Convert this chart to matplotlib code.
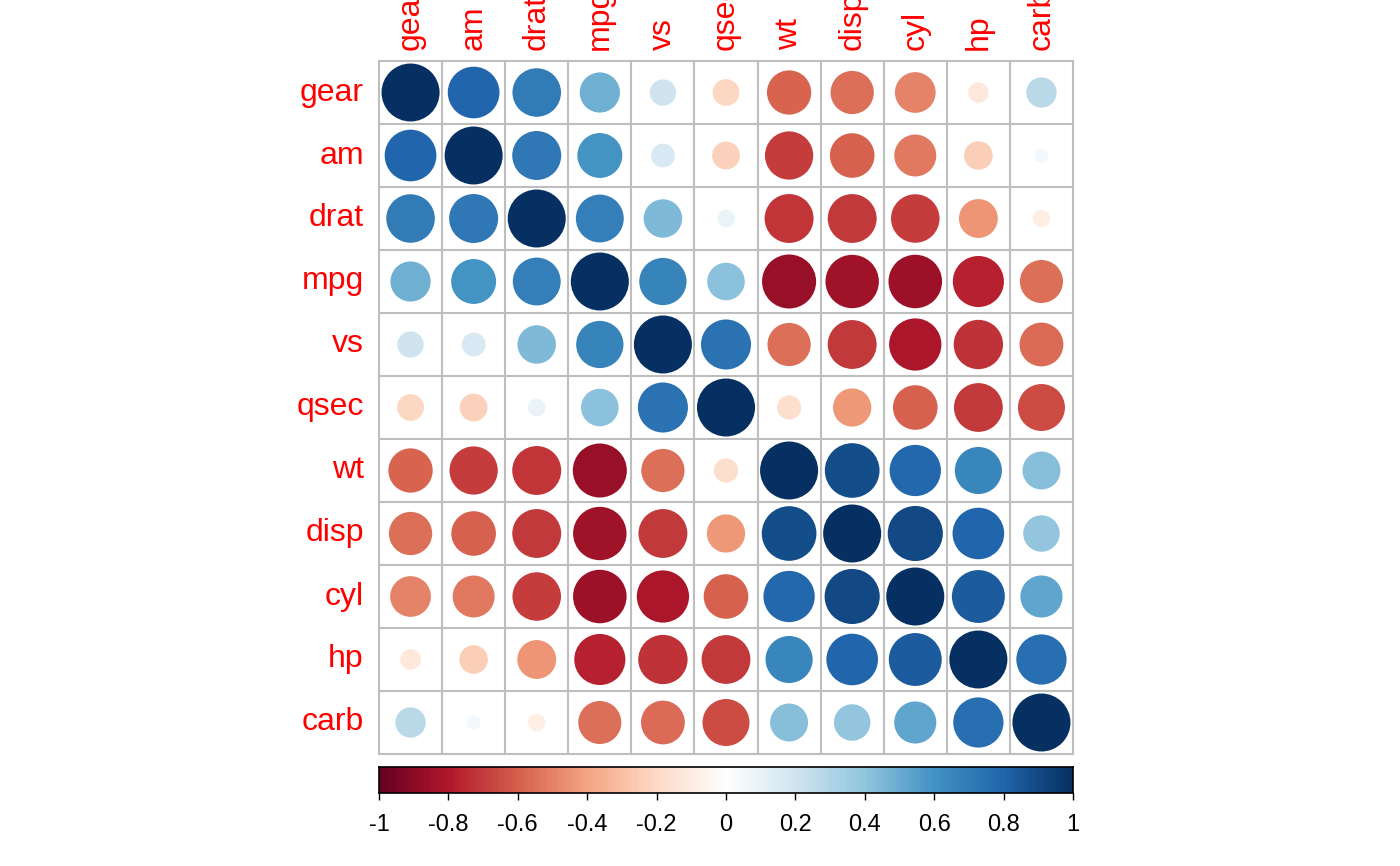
import numpy as np
import matplotlib
matplotlib.use("Agg")
import matplotlib.pyplot as plt
from matplotlib.colors import LinearSegmentedColormap, BoundaryNorm
from matplotlib.patches import Circle

plt.rcParams['font.family'] = ['Liberation Sans', 'DejaVu Sans']

# variable order (hclust) and correlation matrix of mtcars
labels = ["gear", "am", "drat", "mpg", "vs", "qsec", "wt", "disp", "cyl", "hp", "carb"]

corr = np.array([
    # gear   am     drat   mpg    vs     qsec   wt     disp   cyl    hp     carb
    [1.000, 0.794, 0.700, 0.480, 0.206, -0.213, -0.583, -0.556, -0.493, -0.126, 0.274],
    [0.794, 1.000, 0.713, 0.600, 0.168, -0.230, -0.692, -0.591, -0.523, -0.243, 0.058],
    [0.700, 0.713, 1.000, 0.681, 0.440, 0.091, -0.712, -0.710, -0.700, -0.449, -0.091],
    [0.480, 0.600, 0.681, 1.000, 0.664, 0.419, -0.868, -0.848, -0.852, -0.776, -0.551],
    [0.206, 0.168, 0.440, 0.664, 1.000, 0.745, -0.555, -0.710, -0.811, -0.723, -0.570],
    [-0.213, -0.230, 0.091, 0.419, 0.745, 1.000, -0.175, -0.434, -0.591, -0.708, -0.656],
    [-0.583, -0.692, -0.712, -0.868, -0.555, -0.175, 1.000, 0.888, 0.782, 0.659, 0.428],
    [-0.556, -0.591, -0.710, -0.848, -0.710, -0.434, 0.888, 1.000, 0.902, 0.791, 0.395],
    [-0.493, -0.523, -0.700, -0.852, -0.811, -0.591, 0.782, 0.902, 1.000, 0.832, 0.527],
    [-0.126, -0.243, -0.449, -0.776, -0.723, -0.708, 0.659, 0.791, 0.832, 1.000, 0.750],
    [0.274, 0.058, -0.091, -0.551, -0.570, -0.656, 0.428, 0.395, 0.527, 0.750, 1.000],
])

cbar_ticks = [-1, -0.8, -0.6, -0.4, -0.2, 0, 0.2, 0.4, 0.6, 0.8, 1]
cbar_ticklabels = ["-1", "-0.8", "-0.6", "-0.4", "-0.2", "0", "0.2", "0.4", "0.6", "0.8", "1"]

rdbu = ["#67001F", "#B2182B", "#D6604D", "#F4A582", "#FDDBC7", "#FFFFFF",
        "#D1E5F0", "#92C5DE", "#4393C3", "#2166AC", "#053061"]
cmap = LinearSegmentedColormap.from_list("rdbu", rdbu, N=200)
bounds = np.linspace(-1, 1, 201)
norm = BoundaryNorm(bounds, 200)

W, H = 1400, 866
fig = plt.figure(figsize=(W / 100, H / 100), dpi=100)

# matrix axes, pixel box 379..1073 x 61..754
x0, x1, y0, y1 = 379, 1073, 61, 754
ax = fig.add_axes([x0 / W, 1 - y1 / H, (x1 - x0) / W, (y1 - y0) / H])
n = len(labels)
ax.set_xlim(0, n)
ax.set_ylim(n, 0)
ax.axis("off")

for i in range(n):
    for j in range(n):
        r = corr[i, j]
        ax.add_patch(Circle((j + 0.5, i + 0.5), 0.46 * np.sqrt(abs(r)),
                            facecolor=cmap(norm(r)), edgecolor="none", zorder=2))

for k in range(n + 1):
    ax.plot([k, k], [0, n], color="#BEBEBE", lw=1.5, zorder=3, clip_on=False,
            solid_capstyle="projecting")
    ax.plot([0, n], [k, k], color="#BEBEBE", lw=1.5, zorder=3, clip_on=False,
            solid_capstyle="projecting")

for k, lab in enumerate(labels):
    ax.text(-0.24, k + 0.5, lab, color="red", fontsize=23, ha="right", va="center",
            clip_on=False)
    ax.text(k + 0.5, -0.17, lab, color="red", fontsize=23, ha="center", va="bottom",
            rotation=90, clip_on=False)

# colorbar
cy0, cy1 = 767, 793
cax = fig.add_axes([x0 / W, 1 - cy1 / H, (x1 - x0) / W, (cy1 - cy0) / H])
grad = np.linspace(-1, 1, 200).reshape(1, -1)
cax.imshow(grad, cmap=cmap, norm=norm, aspect="auto", extent=[-1, 1, 0, 1])
cax.set_xlim(-1, 1)
cax.set_yticks([])
cax.set_xticks(cbar_ticks)
cax.set_xticklabels(cbar_ticklabels, fontsize=17)
cax.tick_params(axis="x", length=5, width=1, pad=10)
for s in cax.spines.values():
    s.set_linewidth(1.2)

fig.savefig("out.png", dpi=100)
